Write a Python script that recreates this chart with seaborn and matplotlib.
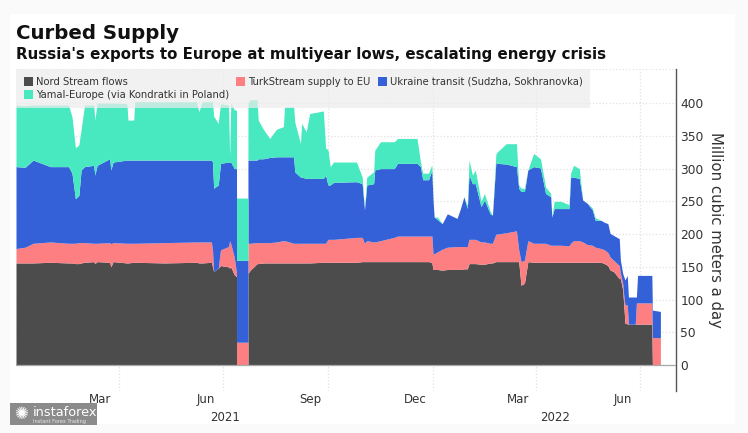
import numpy as np
import pandas as pd
import matplotlib
matplotlib.use("Agg")
import matplotlib.pyplot as plt
from matplotlib.patches import Rectangle
from matplotlib.ticker import MultipleLocator
import seaborn as sns

# Days since 2021-01-01 and stacked tops
days = [0,8,15,30,46,49,52,55,57,60,
        68,69,71,82,83,85,97,98,103,104,
        130,158,160,163,171,172,173,177,179,186,
        187,188,191,193,193.01,203,203.01,205,211,212,
        216.5,222,228,234,235,243,244,249,250,254,
        257,269,271,273,275,278,298,303,305,307,
        313,314,319,331,334,351,354,356,361,363.5,
        364,365,366,369,373,377.5,386,389,392,395,
        396.5,399.5,402,407,410,415,417,420,421,429,
        438,440,442,445,448,453,459,463.5,468,469,
        471,477,484,485.4,488,493,496,500,504.4,507,
        512,515,518,520,523,528,529,531,532,533,
        535,536,542,543,544,555.4,556.5,557,564]
nord_top = [156,156,156,157,156,156,155,155,156,157,
            158,155,158,157,150,158,156,156,157,157,
            156,157,156,156,157,150,143,148,152,150,
            148,150,138,135,0,0,140,145,155,155,
            156,156,156,156,156,156,156,156,156,156,
            156,157,157,157,157,157,157,158,158,158,
            158,158,158,158,158,158,158,158,158,157,
            156,146,146,146,145,146,146,146,147,147,
            155,155,155,154,154,156,156,158,158,158,
            158,158,122,125,158,157,157,157,157,157,
            157,157,157,157,157,157,157,157,157,157,
            157,155,152,145,143,132,132,115,90,64,
            63,62.6,62.6,62.6,62.6,62.6,62.6,0,0]
turk_top = [178,180,186,188,186,186,186,187,187,187,
            186,186,186,187,185,187,186,186,186,186,
            187,188,188,188,188,175,143,148,176,181,
            190,185,165,140,35,35,186,186,187,187,
            187,187,188,190,190,186,186,186,186,186,
            186,186,186,192,192,192,195,195,186,190,
            188,188,190,195,197,197,197,197,197,197,
            197,170,170,173,177,180,181,181,181,181,
            192,192,192,188,188,186,186,200,200,202,
            205,176,158,160,190,186,186,186,183,183,
            183,183,182,186,190,190,188,184,183,180,
            178,176,172,165,160,152,140,125,105,92,
            92,62.6,62.6,95,95,95,95,42,42]
ukraine_top = [303,302,313,303,303,293,254,259,298,303,
               305,290,305,315,298,310,313,313,313,313,
               313,313,313,313,313,310,270,275,308,310,
               310,310,300,300,160,160,313,313,313,315,
               315,317,318,318,318,318,295,287,287,285,
               285,285,290,275,275,279,280,277,237,275,
               277,298,300,300,308,308,303,283,283,295,
               295,252,226,222,216,231,224,239,257,239,
               290,277,277,242,252,231,229,310,308,307,
               303,270,265,265,298,303,301,262,257,226,
               239,239,239,287,287,285,252,247,237,221,
               221,218,216,201,198,193,160,140,135,130,
               137,104,104,104,137,137,137,84,82]
yamal_top = [397,396,397,397,397,379,332,336,360,397,
             397,374,400,400,400,400,399,374,374,402,
             402,402,387,402,402,402,380,369,399,397,
             318,400,390,389,255,255,400,405,405,374,
             360,346,360,364,394,394,371,338,369,356,
             384,388,331,329,303,310,310,287,237,287,
             295,328,341,341,346,346,310,293,293,304,
             304,252,226,226,216,231,224,239,257,244,
             313,290,298,250,262,235,229,322,325,338,
             338,275,270,270,298,323,315,272,262,226,
             250,250,245,293,305,300,252,247,240,225,
             221,218,216,201,198,193,160,140,135,130,
             137,104,104,104,137,137,137,84,82]

series_names = ["Nord Stream flows", "TurkStream supply to EU",
                "Ukraine transit (Sudzha, Sokhranovka)", "Yamal-Europe (via Kondratki in Poland)"]
series_colors = ["#4d4c4d", "#fe7f82", "#3561d8", "#48e8c0"]
title_text = "Curbed Supply"
subtitle_text = "Russia's exports to Europe at multiyear lows, escalating energy crisis"
ylabel_text = "Million cubic meters a day"
y_ticks = [0, 50, 100, 150, 200, 250, 300, 350, 400]
month_labels = ["Mar", "Jun", "Sep", "Dec", "Mar", "Jun"]
month_label_dates = ["2021-03-16", "2021-06-16", "2021-09-16", "2021-12-16", "2022-03-16", "2022-06-16"]
grid_dates = ["2021-04-01", "2021-07-01", "2021-10-01", "2022-01-01", "2022-04-01", "2022-07-01"]

sns.set_theme(style="white")
plt.rcParams["font.family"] = ["DejaVu Sans"]

W, H = 748, 433
fig = plt.figure(figsize=(W / 100, H / 100), dpi=100, facecolor="#fafafa")
fig.add_artist(Rectangle((10 / W, 1 - 424 / H), 725 / W, 410 / H, transform=fig.transFigure,
                         facecolor="white", edgecolor="none", zorder=-5))
ax = fig.add_axes([16 / W, 1 - 390.7 / H, (675.6 - 16) / W, (390.7 - 69) / H])
ax.patch.set_alpha(0)

start = pd.Timestamp("2021-01-01")
x = [start + pd.Timedelta(days=float(d)) for d in days]
frame = pd.DataFrame({"date": x, "nord": nord_top, "turk": turk_top,
                      "ukraine": ukraine_top, "yamal": yamal_top})
layers = [frame["nord"].values,
          frame["turk"].values - frame["nord"].values,
          frame["ukraine"].values - frame["turk"].values,
          frame["yamal"].values - frame["ukraine"].values]
ax.stackplot(frame["date"], *layers, colors=series_colors, labels=series_names, zorder=2, linewidth=0)

ax.set_xlim(start, start + pd.Timedelta(days=577.3))
ax.set_ylim(-39, 452)
ax.yaxis.tick_right()
ax.yaxis.set_label_position("right")
ax.set_yticks(y_ticks)
ax.yaxis.set_minor_locator(MultipleLocator(25))
ax.tick_params(axis="y", which="major", length=2.5, width=0.9, color="#444444", labelsize=8.8,
               labelcolor="#333333", pad=0.8, right=True)
ax.tick_params(axis="y", which="minor", length=1.8, width=0.7, color="#777777", right=True)
ax.set_xticks(pd.to_datetime(grid_dates))
ax.set_xticks(pd.to_datetime(month_label_dates), minor=True)
ax.set_xticklabels([""] * len(grid_dates))
ax.set_xticklabels(month_labels, minor=True)
ax.tick_params(axis="x", which="both", length=0, bottom=False)
ax.tick_params(axis="x", which="minor", labelsize=8.5, labelcolor="#333333", pad=2)
ax.grid(True, which="major", axis="both", color="#e2e2e2", linestyle=":", linewidth=0.9, zorder=0)
ax.axhline(0, color="#a8a8a8", linewidth=0.9, zorder=3)
ax.axhline(451.5, color="#e2e2e2", linestyle=":", linewidth=0.9, zorder=0)
ax.set_axisbelow(True)
sns.despine(ax=ax, left=True, bottom=True, top=True, right=False)
ax.spines["right"].set_color("#555555")
ax.spines["right"].set_linewidth(1.0)
ax.set_ylabel(ylabel_text, rotation=270, fontsize=10.7, color="#333333", labelpad=14, y=0.5)

handles, labels = ax.get_legend_handles_labels()
order = [0, 3, 1, 2]
leg = ax.legend([handles[i] for i in order], [labels[i] for i in order], ncol=3,
                loc="upper left", bbox_to_anchor=(0, 1), borderaxespad=0, frameon=True,
                fontsize=7.2, handlelength=0.9, handleheight=0.9, handletextpad=0.3,
                columnspacing=0.7, labelspacing=0.3, borderpad=0.8, fancybox=False,
                facecolor="#ececec", edgecolor="none", framealpha=0.72)
for t in leg.get_texts():
    t.set_color("#333333")

for year, date_str in [("2021", "2021-07-03"), ("2022", "2022-04-18")]:
    ax.annotate(year, (pd.Timestamp(date_str), 0), xycoords=("data", "axes fraction"),
                xytext=(0, -19), textcoords="offset points", ha="center", va="center",
                fontsize=8.5, color="#333333")

fig.text(16 / W, 1 - 33.5 / H, title_text, fontsize=14.2, fontweight="bold", color="#111111", va="center")
fig.text(16 / W, 1 - 54 / H, subtitle_text, fontsize=10.8, fontweight="bold", color="#111111", va="center")

# Watermark
fig.add_artist(Rectangle((10 / W, 1 - 425 / H), 87 / W, 22 / H, transform=fig.transFigure,
                         facecolor="#8b8b8b", edgecolor="none", zorder=5))
fig.text(21.5 / W, 1 - 414 / H, "✺", fontsize=12, color="white", ha="center", va="center", zorder=6)
fig.text(33 / W, 1 - 412 / H, "instaforex", fontsize=9.3, color="white", va="center", zorder=6)
fig.text(33 / W, 1 - 421 / H, "Instant Forex Trading", fontsize=3.6, color="#e8e8e8", va="center", zorder=6)

fig.savefig("out.png", dpi=100, facecolor=fig.get_facecolor())
